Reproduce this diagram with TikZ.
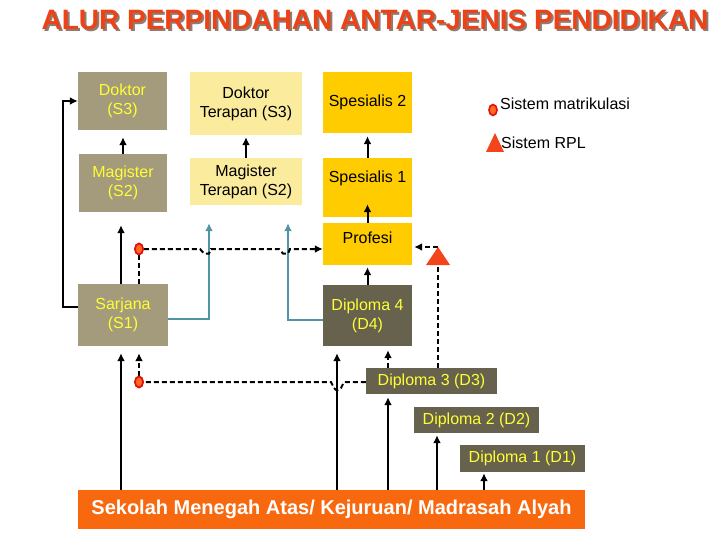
\documentclass[tikz,border=0pt]{standalone}
\usepackage{fontspec}
\setmainfont{Liberation Sans}
\usetikzlibrary{arrows.meta,shapes.geometric}
\definecolor{boxgray}{HTML}{A39B7B}
\definecolor{boxlight}{HTML}{FBEB9C}
\definecolor{boxgold}{HTML}{FFCC00}
\definecolor{boxdark}{HTML}{67624E}
\definecolor{boxorange}{HTML}{F8680E}
\definecolor{txtyellow}{HTML}{FFFF33}
\definecolor{tealline}{HTML}{4F95A6}
\definecolor{titlered}{HTML}{EE4216}
\definecolor{titleshade}{HTML}{8C7C74}
\definecolor{markred}{HTML}{E01010}
\definecolor{markorange}{HTML}{FF6A20}
\definecolor{rplred}{HTML}{F4441C}
\newcommand{\titletext}{ALUR PERPINDAHAN ANTAR-JENIS PENDIDIKAN}
\begin{document}
\begin{tikzpicture}[x=1pt,y=-1pt,
 box/.style={rectangle, inner sep=0pt, align=center, font=\fontsize{16}{19}\selectfont},
 graybox/.style={box, fill=boxgray, text=txtyellow},
 lightbox/.style={box, fill=boxlight, text=black},
 goldbox/.style={box, fill=boxgold, text=black},
 darkbox/.style={box, fill=boxdark, text=txtyellow},
 arr/.style={line width=2pt, -{Latex[length=8pt,width=8pt]}},
 dashline/.style={line width=2pt, dash pattern=on 5pt off 3pt},
 dasharr/.style={dashline, -{Latex[length=8pt,width=8pt]}},
 tealarr/.style={line width=2pt, draw=tealline, -{Latex[length=8pt,width=8pt]}},
 matmark/.style={ellipse, draw=markred, fill=markorange, line width=1.6pt, minimum width=8pt, minimum height=11pt, inner sep=0pt},
 legtext/.style={anchor=west, inner sep=0pt, font=\fontsize{16}{19}\selectfont},
 titlefont/.style={font=\fontsize{28}{30}\bfseries\selectfont, inner sep=0pt},
 ]
\useasboundingbox (0,0) rectangle (720,540);
% title with shadow (one text node)
\node[titlefont, text=titlered] (title) at (375,21) {\makebox[0pt][l]{\hspace{2pt}\raisebox{-2pt}{\textcolor{titleshade}{\titletext}}}\titletext};
% boxes
\node[graybox, minimum width=89pt, minimum height=58pt] (s3) at (122.5,101) {Doktor\\(S3)};
\node[graybox, minimum width=88pt, minimum height=58pt] (s2) at (123,183) {Magister\\(S2)};
\node[graybox, minimum width=90pt, minimum height=62pt] (s1) at (123,315) {Sarjana\\(S1)};
\node[lightbox, minimum width=112pt, minimum height=63pt] (dt) at (246,103.5) {Doktor\\Terapan (S3)};
\node[lightbox, minimum width=112pt, minimum height=47pt] (mt) at (246,181.5) {Magister\\Terapan (S2)};
\node[goldbox, minimum width=89pt, minimum height=61pt] (sp2) at (367.5,102.5) {Spesialis 2};
\node[goldbox, minimum width=89pt, minimum height=59pt, text depth=22pt] (sp1) at (367.5,187.5) {Spesialis 1};
\node[goldbox, minimum width=89pt, minimum height=42pt, text depth=13pt] (prof) at (367.5,244) {Profesi};
\node[darkbox, minimum width=89pt, minimum height=61pt] (d4) at (367.5,315.5) {Diploma 4\\(D4)};
\node[darkbox, minimum width=131pt, minimum height=26pt] (d3) at (431.5,381) {Diploma 3 (D3)};
\node[darkbox, minimum width=125pt, minimum height=26pt] (d2) at (476.5,420) {Diploma 2 (D2)};
\node[darkbox, minimum width=125pt, minimum height=27pt] (d1) at (522.5,458.5) {Diploma 1 (D1)};
\node[box, fill=boxorange, text=white, font=\fontsize{20}{24}\bfseries\selectfont, minimum width=507pt, minimum height=39pt] (sma) at (331.5,509.5) {Sekolah Menegah Atas/ Kejuruan/ Madrasah Alyah};
% legend
\node[matmark] (legm) at (493,110) {};
\node[legtext] (legmt) at (500,104) {Sistem matrikulasi};
\fill[rplred] (486,152) -- (495,133) -- (504,152) -- cycle;
\node[legtext] (legrt) at (501,143) {Sistem RPL};
% solid arrows
\draw[arr, shorten >=7pt] (s2.north) -- (s2.north |- s3.south);
\draw[arr, shorten >=13pt] ([xshift=-2pt]s1.north) -- ([xshift=-2pt]s1.north |- s2.south);
\draw[arr, shorten >=7pt] ([xshift=-2pt]s1.south |- sma.north) -- ([xshift=-2pt]s1.south);
\draw[arr] ([yshift=8pt]s1.west) -- ++(-15,0) |- (s3.west);
\draw[arr, shorten >=2pt] (mt.north) -- (dt.south);
\draw[arr, shorten >=3pt] (sp1.north) -- (sp2.south);
\draw[arr, shorten >=-13pt] (prof.north) -- (sp1.south);
\draw[arr, shorten >=2pt] (d4.north) -- (prof.south);
\draw[arr, shorten >=7pt] ([xshift=-30.5pt]d4.south |- sma.north) -- ([xshift=-30.5pt]d4.south);
\draw[arr, shorten >=3pt] ([xshift=-43.5pt]d3.south |- sma.north) -- ([xshift=-43.5pt]d3.south);
\draw[arr, shorten >=2pt] ([xshift=-39.5pt]d2.south |- sma.north) -- ([xshift=-39.5pt]d2.south);
\draw[arr, shorten >=1pt] ([xshift=-38.5pt]d1.south |- sma.north) -- ([xshift=-38.5pt]d1.south);
% teal
\draw[tealarr] ([yshift=-4pt]s1.east) -| ([xshift=-37pt,yshift=-18pt]mt.south);
\draw[tealarr] ([yshift=-4pt]d4.west) -| ([xshift=42pt,yshift=-18pt]mt.south);
% matrikulasi paths
\node[matmark] (m1) at (139,249) {};
\node[matmark] (m2) at (139,382) {};
\draw[dashline] (m1.south) -- ([xshift=16pt]s1.north);
\draw[dasharr] (m1.east) -- (200,249) -- (204,253.5) -- (209,253.5) -- (211,249) -- (279,249) -- (283,253.5) -- (288,253.5) -- (290,249) -- (m1 -| prof.west);
\draw[dasharr, shorten >=7pt] (m2.north) -- ([xshift=16pt]s1.south);
\draw[dashline] (m2 -| d3.west) -- (344,382) -- (341,388) .. controls (339,391) and (336,391) .. (334,388) -- (331,382) -- (m2.east);
\node[matmark] (m1top) at (m1) {};
\node[matmark] (m2top) at (m2) {};
% RPL
\coordinate (rplA) at (438,247);
\coordinate (rplB) at (438,265);
\draw[dashline] ([xshift=6.5pt]d3.north) -- (rplB);
\draw[dasharr, shorten >=2pt] (rplA) -- (rplA -| prof.east);
\fill[rplred] (426,265) -- (rplA) -- (450,265) -- cycle;
% D3 to D4
\draw[dasharr, shorten >=4pt] ([xshift=-43.5pt]d3.north) -- ([xshift=-43.5pt]d3.north |- d4.south);
\end{tikzpicture}
\end{document}
